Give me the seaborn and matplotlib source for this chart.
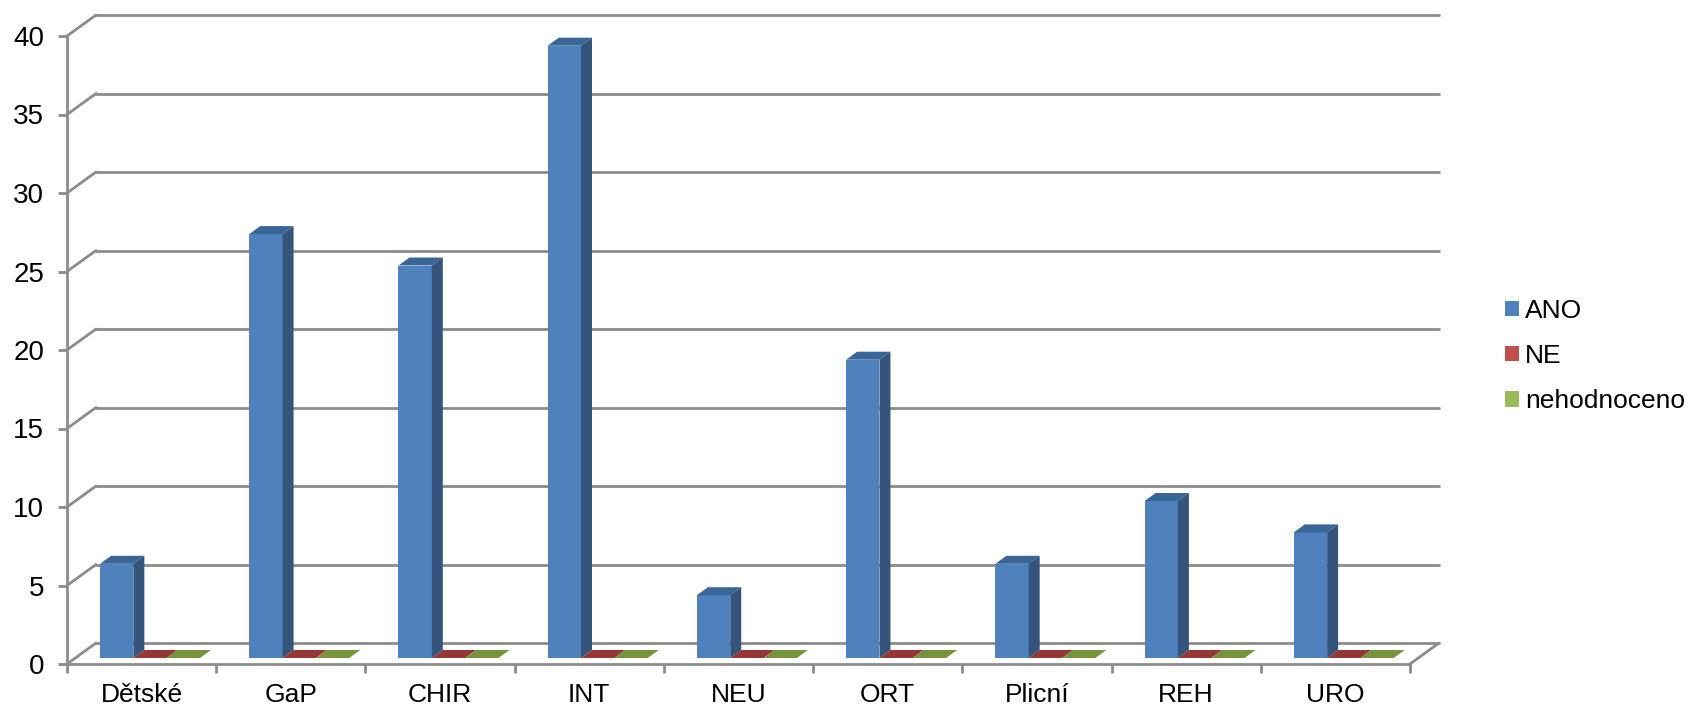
import numpy as np
import pandas as pd
import matplotlib
matplotlib.use("Agg")
import matplotlib.pyplot as plt
import matplotlib.transforms as mtrans
from matplotlib.patches import Polygon
import seaborn as sns

categories = ["Dětské", "GaP", "CHIR", "INT", "NEU", "ORT", "Plicní", "REH", "URO"]
ano = [6, 27, 25, 39, 4, 19, 6, 10, 8]
ne = [0, 0, 0, 0, 0, 0, 0, 0, 0]
nehodnoceno = [0, 0, 0, 0, 0, 0, 0, 0, 0]
series_names = ["ANO", "NE", "nehodnoceno"]
y_ticks = [0, 5, 10, 15, 20, 25, 30, 35, 40]

colors = ["#4F81BD", "#C0504D", "#9BBB59"]
side_colors = ["#34547B", "#7F3533", "#66803A"]
top_colors = ["#3A6597", "#953735", "#77933C"]
grid_color = "#8C8C8C"

sns.set_theme(style="white")
plt.rcParams["font.family"] = ["Liberation Sans", "DejaVu Sans"]

W, H = 1690, 710
fig = plt.figure(figsize=(W / 100, H / 100), dpi=100)
ax = fig.add_axes([67 / W, (H - 664) / H, (1410 - 67) / W, (664 - 36) / H])

df = pd.DataFrame({
    "kat": categories * 3,
    "serie": np.repeat(series_names, len(categories)),
    "hodnota": ano + ne + nehodnoceno,
})
sns.barplot(data=df, x="kat", y="hodnota", hue="serie", hue_order=series_names,
            palette=colors, width=0.67, gap=0, errorbar=None, ax=ax,
            saturation=1, zorder=3, linewidth=0, edgecolor="none")
ax.set_xlim(-0.5, len(categories) - 0.5)
ax.set_ylim(0, 40)
ax.set_xlabel("")
ax.set_ylabel("")

# 3-D wall/floor: offset copies of the data transform
lw = 2.0
back = mtrans.offset_copy(ax.transData, fig, x=29, y=21, units="dots")
xl, xr = ax.get_xlim()
for v in y_ticks:
    p0 = ax.transData.transform((xl, v))
    p1 = back.transform((xl, v))
    ax.plot([p0[0], p1[0]], [p0[1], p1[1]], transform=None, color=grid_color,
            lw=lw, clip_on=False, zorder=1, solid_capstyle="round")
    ax.plot([xl, xr], [v, v], transform=back, color=grid_color, lw=lw,
            clip_on=False, zorder=1)
p0 = ax.transData.transform((xr, 0))
p1 = back.transform((xr, 0))
ax.plot([p0[0], p1[0]], [p0[1], p1[1]], transform=None, color=grid_color, lw=lw,
        clip_on=False, zorder=1, solid_capstyle="round")

# move bars onto the floor and add their depth faces
bar_shift = mtrans.offset_copy(ax.transData, fig, x=8.4, y=6, units="dots")
depth_x, depth_y = 11, 8
for i, cont in enumerate(ax.containers):
    for rect in cont:
        x0, y0 = rect.get_x(), rect.get_y()
        x1, y1 = x0 + rect.get_width(), y0 + rect.get_height()
        rect.set_transform(bar_shift)
        rect.set_clip_on(False)
        (px0, py0), (px1, py1) = bar_shift.transform([(x0, y0), (x1, y1)])
        top = Polygon([(px0, py1), (px1, py1), (px1 + depth_x, py1 + depth_y),
                       (px0 + depth_x, py1 + depth_y)], closed=True,
                      transform=None, facecolor=top_colors[i], edgecolor="none",
                      clip_on=False, zorder=3)
        ax.add_artist(top)
        if y1 > y0:
            side = Polygon([(px1, py0), (px1, py1), (px1 + depth_x, py1 + depth_y),
                            (px1 + depth_x, py0 + depth_y)], closed=True,
                           transform=None, facecolor=side_colors[i], edgecolor="none",
                           clip_on=False, zorder=3.5)
            ax.add_artist(side)

sns.despine(ax=ax, top=True, right=True)
for s in ("left", "bottom"):
    ax.spines[s].set_color(grid_color)
    ax.spines[s].set_linewidth(lw)
    ax.spines[s].set_zorder(2)

ax.set_yticks(y_ticks)
ax.set_yticklabels([str(v) for v in y_ticks])
ax.set_xticks(np.arange(len(categories) + 1) - 0.5)
ax.set_xticklabels([""] * (len(categories) + 1))
ax.set_xticks(np.arange(len(categories)), labels=categories, minor=True)
ax.tick_params(axis="y", which="major", direction="out", length=6.5, width=lw,
               color=grid_color, labelsize=20, labelcolor="black", pad=10, left=True)
ax.tick_params(axis="x", which="major", direction="out", length=6.5, width=lw,
               color=grid_color, bottom=True)
ax.tick_params(axis="x", which="minor", length=0, labelsize=19, labelcolor="black",
               pad=14, bottom=True)

handles, labels = ax.get_legend_handles_labels()
leg = ax.legend(handles, labels, loc="center left",
                bbox_to_anchor=(1505 / W, (H - 356) / H),
                bbox_transform=fig.transFigure, frameon=False, fontsize=19,
                handlelength=0.53, handleheight=0.53, handletextpad=0.24,
                labelspacing=0.8, borderpad=0, borderaxespad=0)
for t in leg.get_texts():
    t.set_color("black")

fig.savefig("out.png", dpi=100, facecolor="white")
